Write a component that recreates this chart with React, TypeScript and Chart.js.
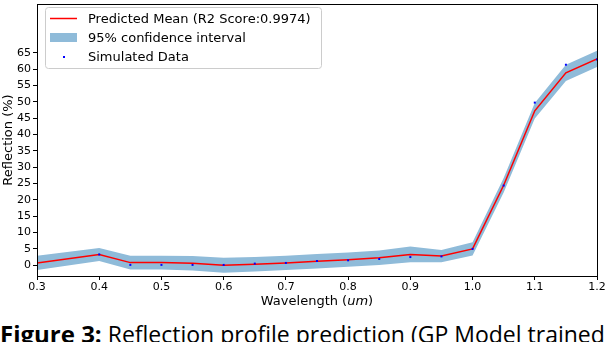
import React, { useEffect, useRef } from "react";
import { Chart, registerables } from "chart.js";

Chart.register(...registerables);

// ---- data ----
const wavelengths = [0.3, 0.4, 0.45, 0.5, 0.55, 0.6, 0.65, 0.7, 0.75, 0.8, 0.85, 0.9, 0.95, 1.0, 1.05, 1.1, 1.15, 1.2];
const predictedMean = [0.7, 3.3, 0.8, 0.8, 0.6, 0.0, 0.3, 0.7, 1.2, 1.7, 2.3, 3.3, 2.8, 5.0, 24.5, 47.3, 58.9, 63.2];
const ciHalfWidth = [2.2, 2.0, 2.1, 2.1, 2.2, 2.3, 2.2, 2.2, 2.2, 2.2, 2.2, 2.4, 1.9, 2.0, 2.2, 2.4, 2.5, 2.5];
const simulatedData = [0.0, 3.3, 0.1, 0.1, 0.1, 0.1, 0.5, 0.7, 1.3, 1.5, 1.9, 2.5, 2.7, 5.0, 24.4, 49.8, 61.4, 63.0];
const xTicks = [0.3, 0.4, 0.5, 0.6, 0.7, 0.8, 0.9, 1.0, 1.1, 1.2];
const yTicks = [0, 5, 10, 15, 20, 25, 30, 35, 40, 45, 50, 55, 60, 65];
const legendLabels = ["Predicted Mean (R2 Score:0.9974)", "95% confidence interval", "Simulated Data"];

const FONT = "'DejaVu Sans', sans-serif";
const BAND = "#8fbbd9";

const W = 608;
const CH = 316;

const framePlugin = {
  id: "frameAndLegend",
  afterDraw(chart: any) {
    const { ctx, chartArea } = chart;
    const { left, right, top, bottom } = chartArea;
    ctx.save();
    // spines
    ctx.strokeStyle = "#000";
    ctx.lineWidth = 1;
    ctx.strokeRect(Math.round(left) + 0.5, Math.round(top) + 0.5, Math.round(right - left), Math.round(bottom - top));

    // x axis title with italic unit
    const parts = [
      { t: "Wavelength (", f: `13px ${FONT}` },
      { t: "um", f: `italic 13px ${FONT}` },
      { t: ")", f: `13px ${FONT}` },
    ];
    let total = 0;
    for (const p of parts) {
      ctx.font = p.f;
      total += ctx.measureText(p.t).width;
    }
    let x = (left + right) / 2 - total / 2;
    ctx.fillStyle = "#000";
    ctx.textBaseline = "middle";
    ctx.textAlign = "left";
    for (const p of parts) {
      ctx.font = p.f;
      ctx.fillText(p.t, x, 302);
      x += ctx.measureText(p.t).width;
    }

    // legend
    const bx = 45.5, by = 7.5, bw = 276, bh = 61, r = 3;
    ctx.beginPath();
    ctx.moveTo(bx + r, by);
    ctx.lineTo(bx + bw - r, by);
    ctx.quadraticCurveTo(bx + bw, by, bx + bw, by + r);
    ctx.lineTo(bx + bw, by + bh - r);
    ctx.quadraticCurveTo(bx + bw, by + bh, bx + bw - r, by + bh);
    ctx.lineTo(bx + r, by + bh);
    ctx.quadraticCurveTo(bx, by + bh, bx, by + bh - r);
    ctx.lineTo(bx, by + r);
    ctx.quadraticCurveTo(bx, by, bx + r, by);
    ctx.closePath();
    ctx.fillStyle = "rgba(255,255,255,0.8)";
    ctx.fill();
    ctx.strokeStyle = "#cccccc";
    ctx.stroke();

    const rows = [19, 38, 57];
    // line handle
    ctx.strokeStyle = "#ff0000";
    ctx.lineWidth = 1.5;
    ctx.beginPath();
    ctx.moveTo(50, rows[0] - 0.5);
    ctx.lineTo(77, rows[0] - 0.5);
    ctx.stroke();
    // patch handle
    ctx.fillStyle = BAND;
    ctx.fillRect(50, rows[1] - 5, 27, 9);
    // point handle
    ctx.fillStyle = "#0000ff";
    ctx.fillRect(63, rows[2] - 1, 2, 2);

    ctx.fillStyle = "#000";
    ctx.font = `13px ${FONT}`;
    ctx.textBaseline = "middle";
    legendLabels.forEach((lab, i) => ctx.fillText(lab, 88, rows[i] + 0.5));
    ctx.restore();
  },
};

export default function App() {
  const ref = useRef<HTMLCanvasElement | null>(null);

  useEffect(() => {
    document.body.style.margin = "0";
    const canvas = ref.current;
    if (!canvas) return;
    const upper = wavelengths.map((w, i) => ({ x: w, y: predictedMean[i] + ciHalfWidth[i] }));
    const lower = wavelengths.map((w, i) => ({ x: w, y: predictedMean[i] - ciHalfWidth[i] }));
    const chart = new Chart(canvas, {
      type: "line",
      data: {
        datasets: [
          {
            label: "Simulated Data",
            data: wavelengths.map((w, i) => ({ x: w, y: simulatedData[i] })),
            showLine: false,
            pointStyle: "rect",
            pointRadius: 1.4,
            pointBorderWidth: 0,
            pointBackgroundColor: "#0000ff",
            backgroundColor: "#0000ff",
            borderColor: "#0000ff",
          },
          {
            label: "Predicted Mean",
            data: wavelengths.map((w, i) => ({ x: w, y: predictedMean[i] })),
            borderColor: "#ff0000",
            borderWidth: 1.5,
            pointRadius: 0,
            tension: 0,
            fill: false,
          },
          {
            label: "upper",
            data: upper,
            borderWidth: 0,
            borderColor: "rgba(0,0,0,0)",
            pointRadius: 0,
            fill: false,
            tension: 0,
          },
          {
            label: "95% confidence interval",
            data: lower,
            borderWidth: 0,
            borderColor: "rgba(0,0,0,0)",
            backgroundColor: BAND,
            pointRadius: 0,
            fill: "-1",
            tension: 0,
          },
        ],
      },
      options: {
        animation: false,
        responsive: false,
        layout: { padding: { left: 0, right: 11, top: 1, bottom: 0 } },
        plugins: { legend: { display: false }, tooltip: { enabled: false } },
        scales: {
          x: {
            type: "linear",
            min: 0.3,
            max: 1.2,
            afterBuildTicks: (s: any) => {
              s.ticks = xTicks.map((v) => ({ value: v }));
            },
            afterFit: (s: any) => {
              s.height = CH - 276;
              s.paddingLeft = 0;
              s.paddingRight = 0;
            },
            ticks: {
              callback: (v: any) => Number(v).toFixed(1),
              color: "#000",
              font: { family: FONT, size: 11 },
              padding: 1,
              maxRotation: 0,
              autoSkip: false,
            },
            grid: { drawOnChartArea: false, drawTicks: true, tickLength: 4, color: "#000" },
            border: { display: true, color: "#000", width: 1 },
          },
          y: {
            type: "linear",
            min: -3.3,
            max: 80,
            afterBuildTicks: (s: any) => {
              s.ticks = yTicks.map((v) => ({ value: v }));
            },
            afterFit: (s: any) => {
              s.width = 37;
              s.paddingTop = 0;
              s.paddingBottom = 0;
            },
            ticks: {
              color: "#000",
              font: { family: FONT, size: 11 },
              padding: 2,
              autoSkip: false,
            },
            grid: { drawOnChartArea: false, drawTicks: true, tickLength: 4, color: "#000" },
            border: { display: true, color: "#000", width: 1 },
            title: {
              display: true,
              text: "Reflection (%)",
              color: "#000",
              font: { family: FONT, size: 13 },
              padding: { top: 1, bottom: 0 },
            },
          },
        },
      },
      plugins: [framePlugin],
    } as any);
    return () => chart.destroy();
  }, []);

  return (
    <div style={{ position: "relative", width: W, height: 342, overflow: "hidden", background: "#fff" }}>
      <canvas ref={ref} width={W} height={CH} style={{ position: "absolute", left: 0, top: 0, width: W, height: CH }} />
      <div
        style={{
          position: "absolute",
          left: 0,
          top: 322,
          whiteSpace: "nowrap",
          fontFamily: "'Open Sans', sans-serif",
          fontSize: 23,
          lineHeight: "24px",
          color: "#000",
        }}
      >
        <b style={{ fontSize: 24 }}>Figure 3:</b> Reflection profile prediction (GP Model trained
      </div>
    </div>
  );
}
